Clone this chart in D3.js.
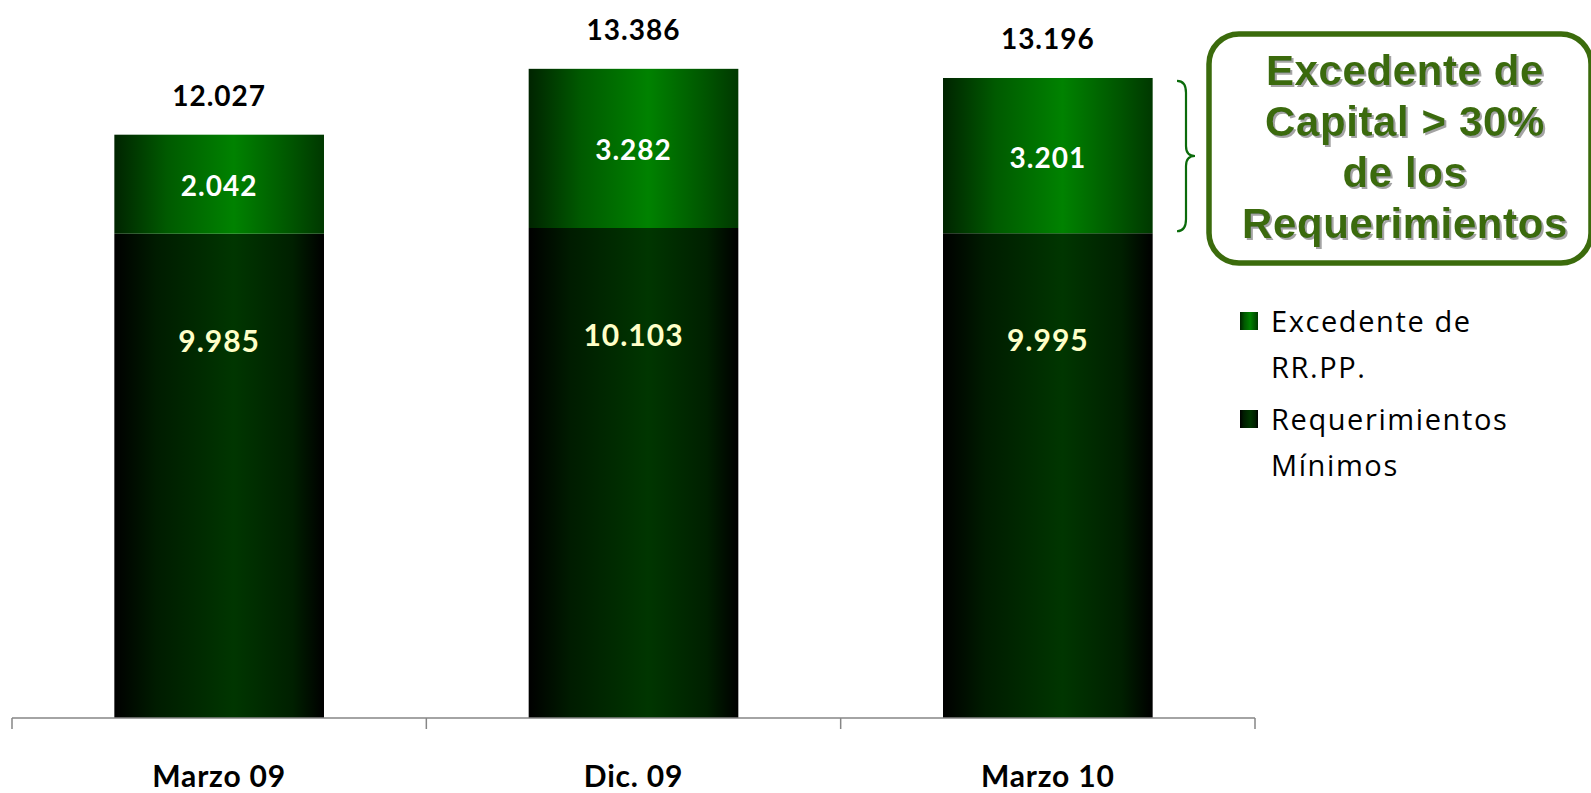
<!DOCTYPE html>
<html><head><meta charset="utf-8">
<script src="https://cdn.jsdelivr.net/npm/d3@7"></script>
<style>
html,body{margin:0;padding:0;background:#fff;}
svg{display:block;}
</style></head>
<body>
<svg id="chart" width="1591" height="793"></svg>
<script>
const categories = ["Marzo 09", "Dic. 09", "Marzo 10"];
const requerimientos = [9985, 10103, 9995];
const excedente = [2042, 3282, 3201];
const totals = [12027, 13386, 13196];
const legendLabels = [["Excedente de", "RR.PP."], ["Requerimientos", "Mínimos"]];
const calloutLines = ["Excedente de", "Capital > 30%", "de los", "Requerimientos"];

const fmt = v => d3.format(",")(v).replace(/,/g, ".");

const svg = d3.select("#chart");
const defs = svg.append("defs");

function grad(id, stops) {
  const g = defs.append("linearGradient").attr("id", id)
    .attr("x1", "0%").attr("x2", "100%").attr("y1", "0%").attr("y2", "0%");
  stops.forEach(s => g.append("stop").attr("offset", s[0]).attr("stop-color", s[1]));
}
grad("gTop", [["0%", "#002400"], ["25%", "#005a00"], ["57%", "#008200"], ["85%", "#005400"], ["100%", "#003800"]]);
grad("gBot", [["0%", "#000000"], ["20%", "#001c00"], ["57%", "#003600"], ["85%", "#002000"], ["100%", "#000000"]]);

const shadow = defs.append("filter").attr("id", "sh").attr("x", "-10%").attr("y", "-10%").attr("width", "130%").attr("height", "140%");
shadow.append("feDropShadow").attr("dx", 2).attr("dy", 2).attr("stdDeviation", 0.6)
  .attr("flood-color", "#9a9a9a").attr("flood-opacity", 0.9);

const x = d3.scaleBand().domain(categories).range([12, 1255]).paddingInner(0).paddingOuter(0);
const y = d3.scaleLinear().domain([0, 14000]).range([718, 39]);
const barW = x.bandwidth() * 0.506;
const bx = c => x(c) + (x.bandwidth() - barW) / 2;

const data = categories.map((c, i) => ({c, req: requerimientos[i], exc: excedente[i], tot: totals[i]}));

// bottom segments
svg.selectAll("rect.req").data(data).enter().append("rect")
  .attr("x", d => bx(d.c)).attr("width", barW)
  .attr("y", d => y(d.req)).attr("height", d => y(0) - y(d.req))
  .attr("fill", "url(#gBot)");
// top segments
svg.selectAll("rect.exc").data(data).enter().append("rect")
  .attr("x", d => bx(d.c)).attr("width", barW)
  .attr("y", d => y(d.req + d.exc)).attr("height", d => y(d.req) - y(d.req + d.exc))
  .attr("fill", "url(#gTop)");

// axis
const axis = svg.append("g").attr("transform", "translate(0,718)");
axis.append("line").attr("x1", 12).attr("x2", 1255).attr("y1", 0).attr("y2", 0)
  .attr("stroke", "#868686").attr("stroke-width", 1.5);
const tickPos = categories.map(c => x(c)).concat([x.range()[1]]);
axis.selectAll("line.tick").data(tickPos).enter().append("line")
  .attr("x1", d => d).attr("x2", d => d).attr("y1", 0).attr("y2", 11)
  .attr("stroke", "#868686").attr("stroke-width", 1.5);

const numFont = "Lato, 'Open Sans', sans-serif";
// category labels
svg.selectAll("text.cat").data(data).enter().append("text")
  .attr("x", d => x(d.c) + x.bandwidth() / 2).attr("y", 787)
  .attr("text-anchor", "middle").attr("font-family", numFont).attr("font-weight", 700)
  .attr("font-size", 30).attr("letter-spacing", 0.8).attr("fill", "#000").text(d => d.c);

// totals
svg.selectAll("text.tot").data(data).enter().append("text")
  .attr("x", d => x(d.c) + x.bandwidth() / 2).attr("y", d => y(d.tot) - 29)
  .attr("text-anchor", "middle").attr("font-family", numFont).attr("font-weight", 700)
  .attr("font-size", 28).attr("letter-spacing", 1).attr("fill", "#000").text(d => fmt(d.tot));

// excedente labels
svg.selectAll("text.exc").data(data).enter().append("text")
  .attr("x", d => x(d.c) + x.bandwidth() / 2)
  .attr("y", d => (y(d.req) + y(d.req + d.exc)) / 2 + 12)
  .attr("text-anchor", "middle").attr("font-family", numFont).attr("font-weight", 700)
  .attr("font-size", 28).attr("letter-spacing", 1).attr("fill", "#ffffff").text(d => fmt(d.exc));

// requerimientos labels
svg.selectAll("text.req").data(data).enter().append("text")
  .attr("x", d => x(d.c) + x.bandwidth() / 2)
  .attr("y", d => y(d.req) + 118)
  .attr("text-anchor", "middle").attr("font-family", numFont).attr("font-weight", 700)
  .attr("font-size", 30).attr("letter-spacing", 1).attr("fill", "#ffffc8").text(d => fmt(d.req));

// legend
const legend = svg.append("g");
const legendFills = ["url(#gTop)", "url(#gBot)"];
const legendTops = [312, 410];
legendLabels.forEach((lines, i) => {
  legend.append("rect").attr("x", 1240).attr("y", legendTops[i]).attr("width", 18).attr("height", 18)
    .attr("fill", legendFills[i]);
  lines.forEach((t, j) => {
    legend.append("text").attr("x", 1271).attr("y", legendTops[i] + 20 + j * 46)
      .attr("font-family", "'Open Sans', sans-serif").attr("font-size", 29).attr("letter-spacing", 1.6)
      .attr("fill", "#000").text(t);
  });
});

// brace
const bTop = y(d3.max(totals)) + 12, bBot = y(requerimientos[2]) - 2;
const bm = (bTop + bBot) / 2;
const bxL = 1177, bxR = 1195;
svg.append("path")
  .attr("d", `M${bxL},${bTop} Q${bxL + 9},${bTop} ${bxL + 9},${bTop + 12} L${bxL + 9},${bm - 10} Q${bxL + 9},${bm} ${bxR},${bm} Q${bxL + 9},${bm} ${bxL + 9},${bm + 10} L${bxL + 9},${bBot - 12} Q${bxL + 9},${bBot} ${bxL},${bBot}`)
  .attr("fill", "none").attr("stroke", "#0b6b0b").attr("stroke-width", 2.2);

// callout box
const callout = svg.append("g");
callout.append("rect").attr("x", 1209).attr("y", 34).attr("width", 382).attr("height", 229)
  .attr("rx", 30).attr("ry", 30).attr("fill", "#fff").attr("stroke", "#3b6b0c").attr("stroke-width", 5.5);
calloutLines.forEach((t, i) => {
  callout.append("text").attr("x", 1405).attr("y", 85 + i * 51)
    .attr("text-anchor", "middle").attr("font-family", "'Liberation Sans', Arial, sans-serif")
    .attr("font-weight", 700).attr("font-size", 42).attr("letter-spacing", 0.6).attr("fill", "#3b6b0c")
    .attr("filter", "url(#sh)").text(t);
});
</script>
</body></html>
